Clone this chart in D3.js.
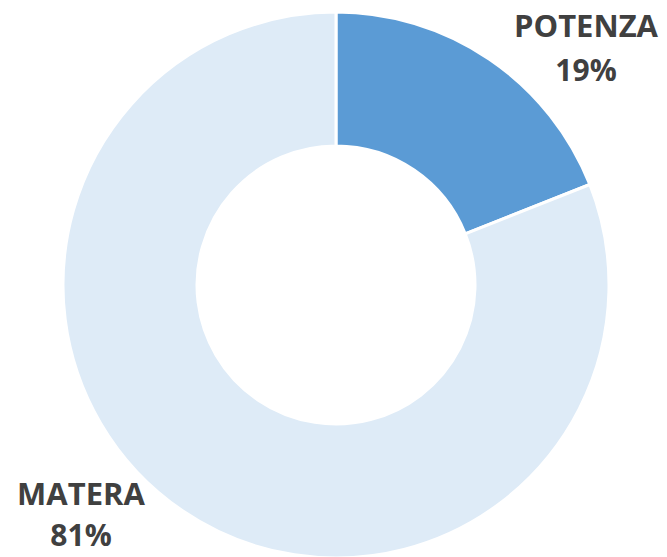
<!DOCTYPE html>
<html>
<head>
<meta charset="utf-8">
<script src="https://cdn.jsdelivr.net/npm/d3@7"></script>
<style>
  html, body { margin: 0; padding: 0; background: #ffffff; }
  #chart { width: 667px; height: 557px; }
  text { font-family: "Open Sans", "DejaVu Sans", sans-serif; }
</style>
</head>
<body>
<div id="chart"></div>
<script>
// quote per provincia
const categories = ["POTENZA", "MATERA"];
const values = [19, 81];
const colors = ["#5B9BD5", "#DEEBF7"];

const width = 667, height = 557;
const cx = 336, cy = 285;
const outerR = 273, innerR = 139;

const svg = d3.select("#chart").append("svg")
  .attr("width", width)
  .attr("height", height);

const g = svg.append("g")
  .attr("transform", `translate(${cx},${cy})`);

const pie = d3.pie().sort(null).value(d => d.value);
const arc = d3.arc().innerRadius(innerR).outerRadius(outerR);

const data = categories.map((c, i) => ({ name: c, value: values[i], color: colors[i] }));

g.selectAll("path")
  .data(pie(data))
  .join("path")
  .attr("d", arc)
  .attr("fill", d => d.data.color)
  .attr("stroke", "#ffffff")
  .attr("stroke-width", 3);

// etichette fuori dall'anello
const labelPos = [[586, 37], [81, 505]];
const lineGaps = [44, 41];

const labels = svg.selectAll("g.label")
  .data(data)
  .join("g")
  .attr("class", "label")
  .attr("transform", (d, i) => `translate(${labelPos[i][0]},${labelPos[i][1]})`);

labels.append("text")
  .attr("text-anchor", "middle")
  .attr("font-size", 31)
  .attr("font-weight", "bold")
  .attr("fill", "#404040")
  .text(d => d.name);

labels.append("text")
  .attr("text-anchor", "middle")
  .attr("y", (d, i) => lineGaps[i])
  .attr("font-size", 30)
  .attr("font-weight", "bold")
  .attr("fill", "#404040")
  .text(d => d.value + "%");
</script>
</body>
</html>
